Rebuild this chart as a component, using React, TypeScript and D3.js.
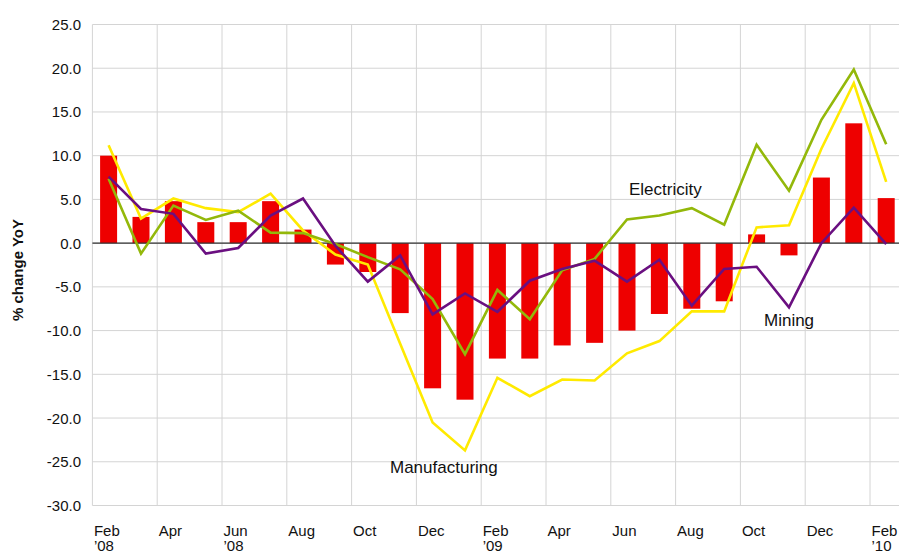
import React from "react";
import * as d3 from "d3";

const months = [
  "Feb08","Mar08","Apr08","May08","Jun08","Jul08","Aug08","Sep08","Oct08","Nov08","Dec08",
  "Jan09","Feb09","Mar09","Apr09","May09","Jun09","Jul09","Aug09","Sep09","Oct09","Nov09","Dec09",
  "Jan10","Feb10",
];
const tickLabels: [string, string][] = [
  ["Feb", "’08"], ["Apr", ""], ["Jun", "’08"], ["Aug", ""], ["Oct", ""], ["Dec", ""],
  ["Feb", "’09"], ["Apr", ""], ["Jun", ""], ["Aug", ""], ["Oct", ""], ["Dec", ""], ["Feb", "’10"],
];
const total = [10.0, 3.0, 4.8, 2.4, 2.4, 4.8, 1.55, -2.45, -3.3, -8.0, -16.6, -17.9, -13.2, -13.2, -11.7, -11.4, -10.0, -8.1, -7.5, -6.65, 1.0, -1.4, 7.5, 13.7, 5.15];
const manufacturing = [11.2, 2.8, 5.1, 4.0, 3.55, 5.65, 1.45, -1.3, -2.45, -11.5, -20.5, -23.7, -15.4, -17.5, -15.6, -15.7, -12.6, -11.2, -7.8, -7.8, 1.8, 2.05, 10.8, 18.3, 7.0];
const electricity = [7.35, -1.2, 4.3, 2.65, 3.7, 1.2, 1.15, -0.1, -1.6, -3.0, -6.4, -12.7, -5.35, -8.7, -3.1, -1.8, 2.7, 3.15, 4.0, 2.1, 11.25, 6.0, 14.1, 19.85, 11.3];
const mining = [7.6, 3.9, 3.35, -1.2, -0.55, 3.15, 5.1, -0.3, -4.4, -1.4, -8.15, -5.75, -7.85, -4.3, -2.95, -2.0, -4.4, -1.9, -7.15, -2.95, -2.7, -7.35, 0.0, 4.05, -0.1];
const yTicks = [25, 20, 15, 10, 5, 0, -5, -10, -15, -20, -25, -30];

const W = 899, H = 552;
const left = 92.4, step = 32.4;
const FONT = "'Liberation Sans', Arial, Helvetica, sans-serif";

export default function App() {
  const x = d3.scaleBand<string>().domain(months).range([left, left + step * months.length]).padding(0);
  const y = d3.scaleLinear().domain([-30, 25]).range([505.5, 24.5]);
  const barW = 17;
  const cx = (i: number) => (x(months[i]) as number) + x.bandwidth() / 2;
  const line = d3.line<number>().x((_, i) => cx(i)).y((v) => y(v));
  const series = [
    { data: manufacturing, color: "#FFEA00" },
    { data: electricity, color: "#93B80A" },
    { data: mining, color: "#6A0F80" },
  ];
  const gridXs = months.filter((_, i) => i % 2 === 0).map((m) => x(m) as number);
  return (
    <svg width={W} height={H} style={{ position: "absolute", left: 0, top: 0, background: "#fff" }} fontFamily={FONT}>
      <g>
        {yTicks.map((t) => (
          <line key={"h" + t} x1={left} x2={W} y1={y(t)} y2={y(t)} stroke="#d4d4d4" strokeWidth={1} />
        ))}
        {gridXs.map((gx, i) => (
          <line key={"v" + i} x1={gx} x2={gx} y1={y(25)} y2={y(-30)} stroke="#d4d4d4" strokeWidth={1} />
        ))}
      </g>
      <g>
        {total.map((v, i) => (
          <rect key={i} x={cx(i) - barW / 2} width={barW} y={y(Math.max(0, v))} height={Math.abs(y(v) - y(0))} fill="#EE0000" />
        ))}
      </g>
      <line x1={left} x2={W} y1={y(0)} y2={y(0)} stroke="#333" strokeWidth={1.2} />
      {series.map((s, i) => (
        <path key={i} d={line(s.data) || ""} fill="none" stroke={s.color} strokeWidth={2.6} strokeLinejoin="miter" />
      ))}
      <g fontSize={15} fill="#111">
        {yTicks.map((t) => (
          <text key={t} x={81} y={y(t)} textAnchor="end" dominantBaseline="central">{t.toFixed(1)}</text>
        ))}
        {tickLabels.map((l, i) => (
          <text key={i} x={gridXs[i] + 1.5} y={536}>
            <tspan x={gridXs[i] + 1.5}>{l[0]}</tspan>
            {l[1] && <tspan x={gridXs[i] + 1.5} dy={15}>{l[1]}</tspan>}
          </text>
        ))}
      </g>
      <text transform="translate(23,270) rotate(-90)" textAnchor="middle" fontSize={15} fontWeight="bold" fill="#111">% change YoY</text>
      <g fontSize={17} fill="#111">
        <text x={629} y={195}>Electricity</text>
        <text x={390} y={473}>Manufacturing</text>
        <text x={764} y={326}>Mining</text>
      </g>
    </svg>
  );
}
